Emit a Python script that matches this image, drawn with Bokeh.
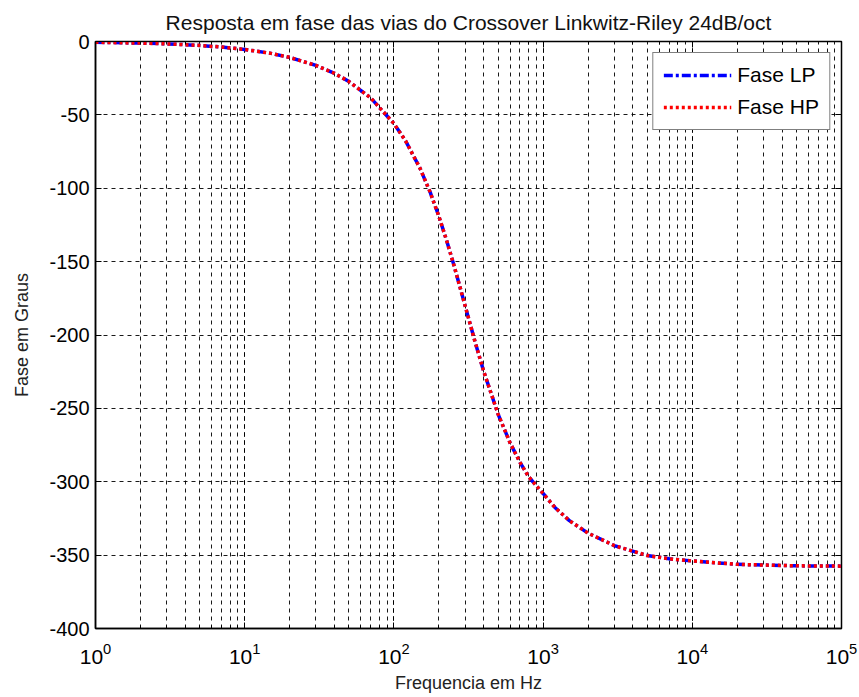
from bokeh.plotting import figure
from bokeh.models import (Range1d, LogAxis, LinearAxis, Legend, LegendItem, FixedTicker,
                          CustomJSTickFormatter)
from bokeh.embed import file_html
from bokeh.resources import INLINE

freq = [1, 2, 3, 5, 7, 10, 15, 20, 30, 40, 50, 70, 100, 120, 150, 175, 200, 225, 250, 275,
        300, 350, 400, 500, 600, 700, 800, 1000, 1200, 1500, 2000, 3000, 5000, 7000, 10000,
        20000, 50000, 100000]
lp_phase = [-0.5, -1.1, -1.6, -2.7, -3.8, -5.4, -8.1, -10.8, -16.3, -21.7, -27.3, -38.5, -55.9,
            -67.9, -86.6, -102.7, -119.0, -135.2, -150.9, -166.0, -180.0, -204.7, -224.8, -254.1,
            -273.4, -286.8, -296.6, -308.0, -317.5, -326.5, -335.0, -343.5, -350.3, -352.5,
            -354.0, -356.3, -357.3, -357.5]
hp_phase = list(lp_phase)
y_ticks = [0, -50, -100, -150, -200, -250, -300, -350, -400]

FONT = "Liberation Sans"

p = figure(width=859, height=697, x_axis_type="log", output_backend="svg",
           toolbar_location=None, x_range=Range1d(1, 1e5), y_range=Range1d(-400, 0),
           title="Resposta em fase das vias do Crossover Linkwitz-Riley 24dB/oct",
           min_border_left=95, min_border_right=18, min_border_top=41, min_border_bottom=69)

p.title.align = "center"
p.title.text_font = FONT
p.title.text_font_style = "normal"
p.title.text_font_size = "21px"
p.title.text_color = "#111111"
p.title.standoff = 16

p.background_fill_color = "white"
p.border_fill_color = "white"
p.outline_line_color = "black"
p.outline_line_width = 1.5

for ax in [p.xaxis[0], p.yaxis[0]]:
    ax.major_label_text_font = FONT
    ax.major_label_text_color = "black"
    ax.axis_label_text_font = FONT
    ax.axis_label_text_font_size = "18px"
    ax.axis_label_text_font_style = "normal"
    ax.axis_label_text_color = "#222222"
    ax.major_tick_in = 6
    ax.major_tick_out = 0
    ax.minor_tick_in = 3
    ax.minor_tick_out = 0
    ax.axis_line_color = "black"
    ax.axis_line_width = 1.5

p.xaxis[0].axis_label = "Frequencia em Hz"
p.xaxis[0].major_label_text_font_size = "21px"
p.xaxis[0].major_label_standoff = 14
p.xaxis[0].axis_label_standoff = 6
p.yaxis[0].axis_label = "Fase em Graus"
p.yaxis[0].major_label_text_font_size = "20px"
p.yaxis[0].ticker = FixedTicker(ticks=y_ticks)
p.yaxis[0].formatter = CustomJSTickFormatter(code="return tick.toFixed(0);")
p.yaxis[0].minor_tick_line_color = None
p.yaxis[0].major_label_standoff = 6
p.yaxis[0].axis_label_standoff = 14

top = LogAxis(major_label_text_font_size="1px", major_label_text_alpha=0,
              major_label_standoff=0,
              major_tick_in=6, major_tick_out=0, minor_tick_in=3, minor_tick_out=0,
              axis_line_color="black")
right = LinearAxis(ticker=FixedTicker(ticks=y_ticks), major_label_text_font_size="1px",
                   major_label_text_alpha=0, major_label_standoff=0,
                   major_tick_in=6, major_tick_out=0, minor_tick_line_color=None,
                   axis_line_color="black")
p.add_layout(top, "above")
p.add_layout(right, "right")

p.xgrid.grid_line_color = "black"
p.xgrid.grid_line_dash = "4 4"
p.xgrid.grid_line_alpha = 0.9
p.xgrid.minor_grid_line_color = "black"
p.xgrid.minor_grid_line_dash = "4 4"
p.xgrid.minor_grid_line_alpha = 0.9
p.ygrid.ticker = FixedTicker(ticks=y_ticks)
p.ygrid.grid_line_color = "black"
p.ygrid.grid_line_dash = "4 4"
p.ygrid.grid_line_alpha = 0.9

r_lp = p.line(freq, lp_phase, line_color="blue", line_width=3.5, line_dash="9 3 3 3")
r_hp = p.line(freq, hp_phase, line_color="red", line_width=3.5, line_dash="3 3")

legend = Legend(items=[LegendItem(label="Fase LP", renderers=[r_lp]),
                       LegendItem(label="Fase HP", renderers=[r_hp])],
                location="top_right", label_text_font=FONT, label_text_font_size="21px",
                label_text_color="black", border_line_color="black", border_line_width=1.5,
                glyph_width=68, glyph_height=22, label_height=22, spacing=8, padding=10,
                margin=11, label_standoff=6, background_fill_alpha=1.0)
p.add_layout(legend)

open("out.html", "w").write(file_html(p, INLINE))
